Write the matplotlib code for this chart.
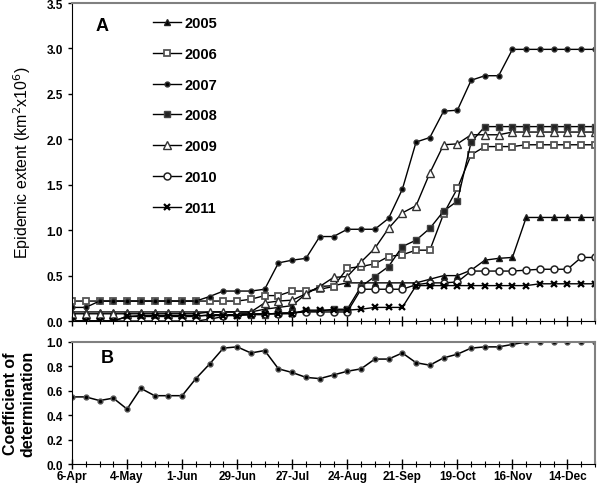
import matplotlib
matplotlib.use("Agg")
import matplotlib.pyplot as plt
import numpy as np

plt.rcParams['font.family'] = ['Liberation Sans', 'DejaVu Sans']

weeks = list(range(39))
tick_pos = [0, 4, 8, 12, 16, 20, 24, 28, 32, 36]
tick_labels = ['6-Apr', '4-May', '1-Jun', '29-Jun', '27-Jul', '24-Aug', '21-Sep', '19-Oct', '16-Nov', '14-Dec']

y2005 = [0.10, 0.10, 0.10, 0.10, 0.10, 0.10, 0.10, 0.10, 0.10, 0.10, 0.10, 0.10, 0.10, 0.10, 0.13,
         0.15, 0.17, 0.30, 0.38, 0.39, 0.42, 0.42, 0.42, 0.42, 0.42, 0.42, 0.46, 0.50, 0.50, 0.56,
         0.67, 0.69, 0.70, 1.14, 1.14, 1.14, 1.14, 1.14, 1.14]
y2006 = [0.22, 0.22, 0.22, 0.22, 0.22, 0.22, 0.22, 0.22, 0.22, 0.22, 0.22, 0.22, 0.22, 0.24, 0.28,
         0.28, 0.33, 0.33, 0.35, 0.38, 0.58, 0.60, 0.63, 0.71, 0.73, 0.78, 0.78, 1.18, 1.46, 1.83,
         1.92, 1.92, 1.92, 1.94, 1.94, 1.94, 1.94, 1.94, 1.94]
y2007 = [0.15, 0.15, 0.22, 0.22, 0.22, 0.22, 0.22, 0.22, 0.22, 0.22, 0.27, 0.33, 0.33, 0.33, 0.35,
         0.64, 0.67, 0.69, 0.93, 0.93, 1.01, 1.01, 1.01, 1.13, 1.45, 1.97, 2.02, 2.31, 2.32, 2.65,
         2.70, 2.70, 2.99, 2.99, 2.99, 2.99, 2.99, 2.99, 2.99]
y2008 = [0.00, 0.00, 0.00, 0.00, 0.05, 0.05, 0.05, 0.05, 0.05, 0.05, 0.07, 0.07, 0.07, 0.07, 0.07,
         0.09, 0.09, 0.11, 0.11, 0.13, 0.13, 0.38, 0.49, 0.60, 0.82, 0.89, 1.02, 1.21, 1.32, 1.97,
         2.14, 2.14, 2.14, 2.14, 2.14, 2.14, 2.14, 2.14, 2.14]
y2009 = [0.08, 0.08, 0.08, 0.08, 0.08, 0.08, 0.08, 0.08, 0.08, 0.08, 0.10, 0.10, 0.10, 0.10, 0.20,
         0.22, 0.23, 0.30, 0.38, 0.48, 0.49, 0.65, 0.80, 1.02, 1.19, 1.27, 1.63, 1.94, 1.95, 2.05,
         2.05, 2.05, 2.08, 2.08, 2.08, 2.08, 2.08, 2.08, 2.08]
y2010 = [0.00, 0.00, 0.00, 0.00, 0.00, 0.00, 0.00, 0.00, 0.00, 0.00, 0.02, 0.05, 0.08, 0.08, 0.08,
         0.08, 0.09, 0.10, 0.10, 0.10, 0.10, 0.35, 0.35, 0.35, 0.35, 0.40, 0.42, 0.42, 0.43, 0.55,
         0.55, 0.55, 0.55, 0.56, 0.57, 0.57, 0.57, 0.70, 0.70]
y2011 = [0.00, 0.00, 0.00, 0.00, 0.05, 0.06, 0.06, 0.06, 0.06, 0.06, 0.06, 0.06, 0.06, 0.07, 0.08,
         0.08, 0.08, 0.12, 0.12, 0.12, 0.12, 0.13, 0.15, 0.15, 0.15, 0.39, 0.39, 0.39, 0.39, 0.39,
         0.39, 0.39, 0.39, 0.39, 0.41, 0.41, 0.41, 0.41, 0.41]
r2 = [0.55, 0.55, 0.52, 0.54, 0.45, 0.62, 0.56, 0.56, 0.56, 0.70, 0.82, 0.95, 0.96, 0.91, 0.93,
      0.78, 0.75, 0.71, 0.70, 0.73, 0.76, 0.78, 0.86, 0.86, 0.91, 0.83, 0.81, 0.87, 0.90, 0.95,
      0.96, 0.96, 0.98, 1.00, 1.00, 1.00, 1.00, 1.00, 1.00]

years = ['2005', '2006', '2007', '2008', '2009', '2010', '2011']
series = [y2005, y2006, y2007, y2008, y2009, y2010, y2011]
styles = [
    dict(marker='^', ms=5, mfc='black', mec='#222222'),
    dict(marker='s', ms=5, mfc='white', mec='#555555', mew=1.3),
    dict(marker='o', ms=3.5, mfc='black', mec='#333333'),
    dict(marker='s', ms=4.5, mfc='#222222', mec='#444444'),
    dict(marker='^', ms=5.5, mfc='white', mec='#333333', mew=1.0),
    dict(marker='o', ms=5, mfc='white', mec='#222222', mew=1.1),
    dict(marker='x', ms=4.5, mfc='black', mec='black', mew=1.6),
]

fig = plt.figure(figsize=(6.0, 4.85), dpi=100)
ax1 = fig.add_axes([0.12, 0.336, 0.8717, 0.6557])
ax2 = fig.add_axes([0.12, 0.0412, 0.8717, 0.2516])

for yr, ys, st in zip(years, series, styles):
    ax1.plot(weeks, ys, color='black', lw=1.0, label=yr, **st)

ax2.plot(weeks, r2, color='black', lw=1.1, marker='o', ms=3.5, mfc='black', mec='#555555')

for ax in (ax1, ax2):
    ax.set_xlim(0, 38)
    ax.set_xticks(tick_pos)
    ax.set_xticks(weeks, minor=True)
    ax.tick_params(axis='x', which='major', direction='inout', length=7, width=1, pad=1)
    ax.tick_params(axis='x', which='minor', direction='inout', length=4, width=0.8)
    ax.tick_params(axis='y', direction='out', length=3, width=1)
    ax.spines['top'].set_color('#808080')
    ax.spines['right'].set_color('#808080')
    ax.spines['top'].set_linewidth(1.5)
    ax.spines['right'].set_linewidth(1.5)

ax1.set_ylim(0, 3.5)
ax1.set_yticks(np.arange(0, 3.51, 0.5))
ax1.set_yticklabels([f'{v:.1f}' for v in np.arange(0, 3.51, 0.5)], fontsize=8.5, fontweight='bold')
ax1.set_xticklabels([])
ax1.set_ylabel('Epidemic extent (km$^2$x10$^6$)', fontsize=11.5, labelpad=10)

ax2.set_ylim(0, 1.0)
ax2.set_yticks(np.arange(0, 1.01, 0.2))
ax2.set_yticklabels([f'{v:.1f}' for v in np.arange(0, 1.01, 0.2)], fontsize=8.5, fontweight='bold')
ax2.set_xticklabels(tick_labels, fontsize=8.5, fontweight='bold')
ax2.set_ylabel('Coefficient of\ndetermination', fontsize=11.5, fontweight='bold', labelpad=8)

ax1.text(0.045, 0.93, 'A', transform=ax1.transAxes, fontsize=13, fontweight='bold', va='center')
ax2.text(0.055, 0.87, 'B', transform=ax2.transAxes, fontsize=13, fontweight='bold', va='center')

leg = ax1.legend(loc='upper left', bbox_to_anchor=(0.13, 1.0), frameon=False,
                 prop={'weight': 'bold', 'size': 10.5}, handlelength=1.9,
                 labelspacing=1.15, handletextpad=0.25)

fig.align_ylabels([ax1, ax2])
fig.savefig('out.png', dpi=100)
